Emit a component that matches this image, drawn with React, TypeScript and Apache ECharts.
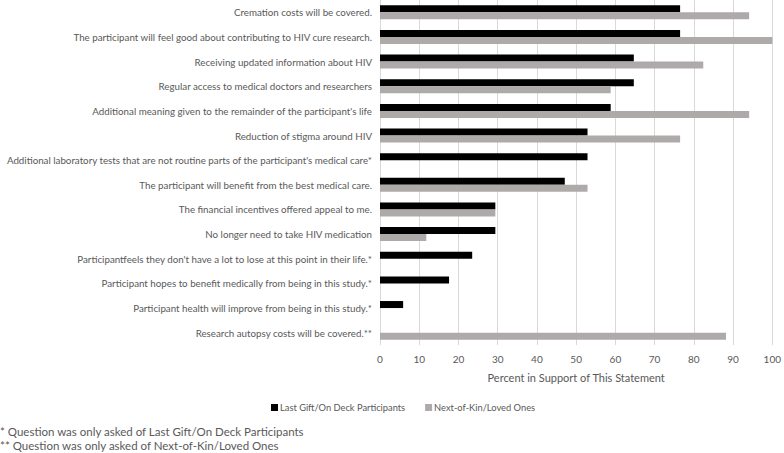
import React, { useEffect, useRef } from "react";
import * as echarts from "echarts";

const categories = [
  "Cremation costs will be covered.",
  "The participant will feel good about contributing to HIV cure research.",
  "Receiving updated information about HIV",
  "Regular access to medical doctors and researchers",
  "Additional meaning given to the remainder of the participant's life",
  "Reduction of stigma around HIV",
  "Additional laboratory tests that are not routine parts of the participant's medical care*",
  "The participant will benefit from the best medical care.",
  "The financial incentives offered appeal to me.",
  "No longer need to take HIV medication",
  "Participantfeels they don't have a lot to lose at this point in their life.*",
  "Participant hopes to benefit medically from being in this study.*",
  "Participant health will improve from being in this study.*",
  "Research autopsy costs will be covered.**",
];

const lastGiftValues = [76.5, 76.5, 64.7, 64.7, 58.8, 52.9, 52.9, 47.1, 29.4, 29.4, 23.5, 17.6, 5.9, null];
const nextOfKinValues = [94.1, 100, 82.4, 58.8, 94.1, 76.5, null, 52.9, 29.4, 11.8, null, null, null, 88.2];

const seriesNames = ["Last Gift/On Deck Participants", "Next-of-Kin/Loved Ones"];
const xTicks = { min: 0, max: 100, interval: 10 };
const axisTitle = "Percent in Support of This Statement";
const footnotes = [
  "* Question was only asked of Last Gift/On Deck Participants",
  "** Question was only asked of Next-of-Kin/Loved Ones",
];

const FONT = "Lato";
const TXT = "#595959";

export default function App() {
  const ref = useRef<HTMLDivElement>(null);
  useEffect(() => {
    if (!ref.current) return;
    const chart = echarts.init(ref.current, null, { renderer: "svg" });
    chart.setOption({
      animation: false,
      textStyle: { fontFamily: FONT, color: TXT },
      grid: { left: 380, right: 9, top: 0, bottom: 108, containLabel: false },
      legend: {
        left: 266,
        top: 398,
        itemWidth: 7,
        itemHeight: 7,
        itemGap: 20,
        icon: "rect",
        textStyle: { fontFamily: FONT, fontSize: 9.3, color: TXT, padding: [0, 0, 0, -3] },
        data: seriesNames,
      },
      xAxis: {
        type: "value",
        min: xTicks.min,
        max: xTicks.max,
        interval: xTicks.interval,
        name: axisTitle,
        nameLocation: "middle",
        nameGap: 27,
        nameTextStyle: { fontFamily: FONT, fontSize: 11, color: TXT },
        axisLine: { show: false },
        axisTick: { show: false },
        axisLabel: { fontFamily: FONT, fontSize: 10, color: TXT, margin: 9 },
        splitLine: { show: true, lineStyle: { color: "#d9d9d9", width: 1 } },
      },
      yAxis: {
        type: "category",
        inverse: true,
        data: categories,
        axisLine: { show: false },
        axisTick: { show: false },
        axisLabel: { fontFamily: FONT, fontSize: 9.75, color: TXT, margin: 8 },
      },
      series: [
        {
          name: seriesNames[0],
          type: "bar",
          data: lastGiftValues,
          barWidth: 7,
          barGap: "0%",
          itemStyle: { color: "#000000" },
        },
        {
          name: seriesNames[1],
          type: "bar",
          data: nextOfKinValues,
          barWidth: 7,
          barGap: "0%",
          itemStyle: { color: "#aeaaaa" },
        },
      ],
      graphic: footnotes.map((t, i) => ({
        type: "text",
        left: 0,
        top: 425 + i * 14,
        style: { text: t, fontFamily: FONT, fontSize: 11.5, fill: TXT },
      })),
    });
    return () => chart.dispose();
  }, []);
  return <div ref={ref} style={{ width: 784, height: 453, position: "absolute", left: 0, top: 0 }} />;
}
